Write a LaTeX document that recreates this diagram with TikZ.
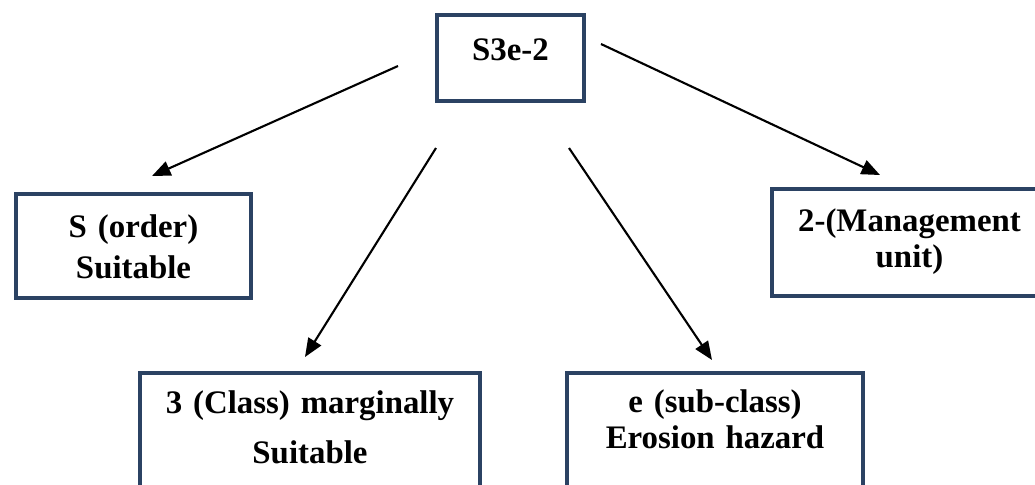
\documentclass[tikz,border=0pt]{standalone}
\usepackage{fontspec}
\setmainfont{Liberation Serif}
\usetikzlibrary{arrows.meta,positioning}
\definecolor{SoilNavy}{HTML}{2B4263}

\begin{document}
\begin{tikzpicture}[x=0.02cm,y=-0.02cm,
      landunit/.style={draw=SoilNavy,line width=2.3pt,fill=white,inner sep=0pt,
                   align=center,anchor=north west,
                   font=\fontsize{18.7}{21}\selectfont\bfseries},
      link/.style={-{Triangle[length=10.5pt,width=8.5pt]},line width=1.2pt}]
    \useasboundingbox (0,0) rectangle (1035,484);
    \node[landunit,text width=2.94cm,text height=0.90cm,text depth=0.82cm] (code)  at (435,13)  {S3e-2};
    \node[landunit,text width=4.70cm,text height=0.86cm,text depth=1.22cm] (order) at (14,192)  {S (order)\\[2.8pt]Suitable};
    \node[landunit,text width=5.50cm,text height=0.84cm,text depth=1.30cm] (mgmt)  at (770,187) {2-(Management\\unit)};
    \node[landunit,text width=6.80cm,text height=0.80cm,text depth=1.78cm] (class) at (138,371) {3 (Class) marginally\\[8pt]Suitable};
    \node[landunit,text width=5.92cm,text height=0.78cm,text depth=1.80cm] (sub)   at (565,371) {e (sub-class)\\Erosion hazard};
    % free ends of the arrows
    \coordinate (c1) at (398,66);  \coordinate (o1) at (152,176);
    \coordinate (c2) at (436,148); \coordinate (o2) at (305,357);
    \coordinate (c3) at (569,148); \coordinate (o3) at (712,360);
    \coordinate (c4) at (601,44);  \coordinate (o4) at (880,175);
    \foreach \a/\b in {c1/o1,c2/o2,c3/o3,c4/o4} \draw[link] (\a) -- (\b);
  \end{tikzpicture}
\end{document}
